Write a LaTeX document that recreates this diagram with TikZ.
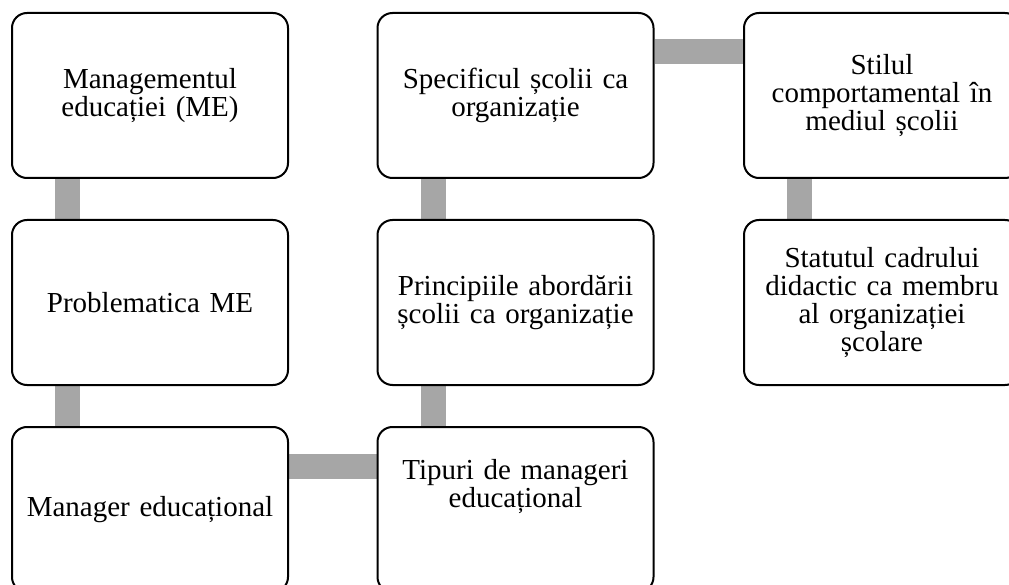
\documentclass[tikz,border=0pt]{standalone}
\usepackage{fontspec}
\setmainfont{Liberation Serif}
\usetikzlibrary{calc,backgrounds}

\definecolor{linkgray}{HTML}{A6A6A6}

\tikzset{
  box/.style={draw=black, line width=2pt, fill=white, rounded corners=15pt,
    minimum width=276pt, minimum height=165pt, inner sep=0pt,
    align=center, text width=262pt,
    font=\fontsize{29}{28}\selectfont},
  boxtext/.style={align=center, text width=262pt, inner sep=0pt,
    font=\fontsize{29}{28}\selectfont},
  link/.style={draw=linkgray, line width=25pt, line cap=butt}
}

\begin{document}
\begin{tikzpicture}[x=1pt, y=-1pt]
  \useasboundingbox (0,0) rectangle (1009,585);
  \clip (0,0) rectangle (1009,585);

  % column 1
  \node[box] (A) at (150,95.5)  {Managementul\\educației (ME)};
  \node[box] (B) at (150,302.5) {Problematica ME};
  \node[box] (C) at (150,509.5) {Manager educațional};
  % column 2
  \node[box] (D) at (515.5,95.5)  {Specificul școlii ca\\organizație};
  \node[box] (E) at (515.5,302.5) {Principiile abordării\\școlii ca organizație};
  \node[box] (F) at (515.5,509.5) {};
  \node[boxtext] (Ft) at ($(F.center)+(0,-23)$) {Tipuri de manageri\\educațional};
  % column 3
  \node[box] (G) at (882,95.5)  {Stilul\\comportamental în\\mediul școlii};
  \node[box] (H) at (882,302.5) {Statutul cadrului\\didactic ca membru\\al organizației\\școlare};

  % grey links, kept behind the boxes
  \begin{scope}[on background layer]
    \path[link] ([xshift=56.5pt]A.south west) -- ([xshift=56.5pt]B.north west);
    \path[link] ([xshift=56.5pt]B.south west) -- ([xshift=56.5pt]C.north west);
    \path[link] ([yshift=-40pt]C.north east) -- ([yshift=-40pt]F.north west);
    \path[link] ([xshift=57pt]F.north west) -- ([xshift=57pt]E.south west);
    \path[link] ([xshift=57pt]E.north west) -- ([xshift=57pt]D.south west);
    \path[link] ([yshift=-40pt]D.north east) -- ([yshift=-40pt]G.north west);
    \path[link] ([xshift=56.5pt]G.south west) -- ([xshift=56.5pt]H.north west);
  \end{scope}
\end{tikzpicture}
\end{document}
